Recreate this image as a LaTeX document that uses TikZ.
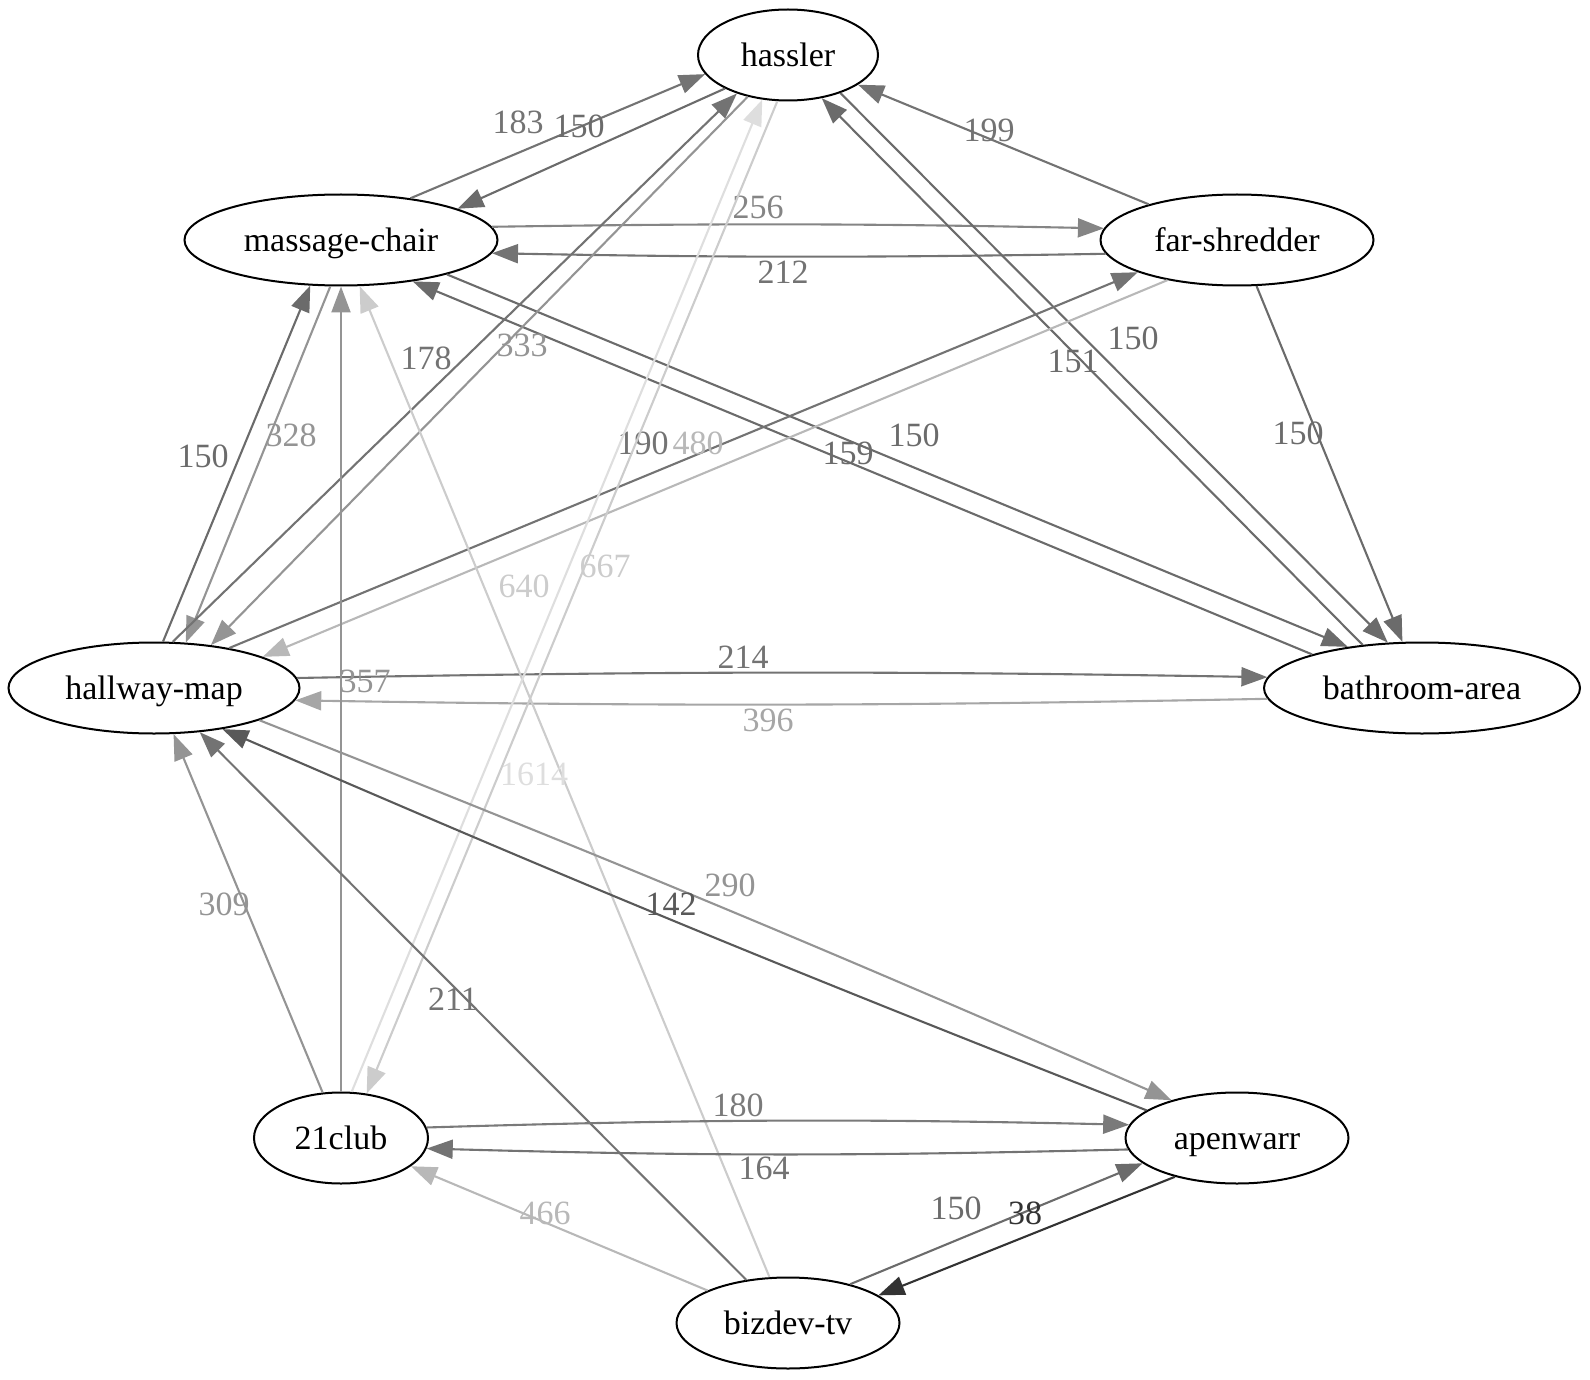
\documentclass[tikz,border=0pt]{standalone}
\usepackage{fontspec}
\setmainfont{Liberation Serif}
\usetikzlibrary{arrows.meta,shapes.geometric}

\begin{document}
\begin{tikzpicture}[x=1pt, y=-1pt]
        \def\tall{91pt}
        \tikzstyle{site}=[ellipse, draw=black, line width=2pt, minimum height=\tall, inner sep=0pt, text height=23pt, text depth=0pt, font=\fontsize{34}{40}\selectfont]
        \tikzstyle{link}=[-{Triangle[length=26pt, width=19pt]}, line width=2.1pt]
        \tikzstyle{hops}=[inner sep=0pt, font=\fontsize{34}{40}\selectfont]

        \useasboundingbox (0,0) rectangle (1590,1380);

        % Locations
        \draw node at (788, 55) [site, minimum width=180pt] (hassler) {hassler};
        \draw node at (341, 240) [site, minimum width=313pt] (massage_chair) {massage-chair};
        \draw node at (1237, 240) [site, minimum width=273pt] (far_shredder) {far-shredder};
        \draw node at (154, 688) [site, minimum width=291pt] (hallway_map) {hallway-map};
        \draw node at (1422, 688) [site, minimum width=316pt] (bathroom_area) {bathroom-area};
        \draw node at (341, 1138) [site, minimum width=174pt] (club_21) {21club};
        \draw node at (1237, 1138) [site, minimum width=223pt] (apenwarr) {apenwarr};
        \draw node at (788, 1323) [site, minimum width=223pt] (bizdev_tv) {bizdev-tv};

        % massage-chair <-> hassler
        \draw[link, black!55] (massage_chair.31) -- (hassler.193) node[hops] at (518,122) {183};
        \draw[link, black!58] (hassler.208) -- (massage_chair.15) node[hops] at (579,126) {150};
        % massage-chair <-> far-shredder
        \draw[link, black!48] (massage_chair.5) to[bend left=1] (far_shredder.175) node[hops] at (758,207) {256};
        \draw[link, black!55] (far_shredder.186) to[bend left=1] (massage_chair.-5) node[hops] at (783,272) {212};
        % far-shredder -> hassler
        \draw[link, black!55] (far_shredder.158) -- (hassler.-23) node[hops] at (989,130) {199};
        % bathroom-area <-> hassler
        \draw[link, black!58] (bathroom_area.144) -- (hassler.-52) node[hops] at (1073,361) {151};
        \draw[link, black!58] (hassler.-36) -- (bathroom_area.127) node[hops] at (1133,338) {150};
        % far-shredder -> bathroom-area
        \draw[link, black!58] (far_shredder.-67) -- (bathroom_area.113) node[hops] at (1298,433) {150};
        % massage-chair <-> bathroom-area
        \draw[link, black!58] (massage_chair.-18) -- (bathroom_area.151) node[hops] at (914,435) {150};
        \draw[link, black!58] (bathroom_area.163) -- (massage_chair.-30) node[hops] at (848,453) {159};
        % hallway-map <-> massage-chair
        \draw[link, black!58] (hallway_map.79) -- (massage_chair.236) node[hops] at (203,456) {150};
        \draw[link, black!42] (massage_chair.257) -- (hallway_map.55) node[hops] at (291,435) {328};
        % hallway-map <-> hassler
        \draw[link, black!55] (hallway_map.68) -- (hassler.217) node[hops] at (426,358) {178};
        \draw[link, black!42] (hassler.226) -- (hallway_map.37) node[hops] at (522,345) {333};
        % hallway-map <-> far-shredder
        \draw[link, black!55] (hallway_map.28) -- (far_shredder.198) node[hops] at (643,443) {190};
        \draw[link, black!28] (far_shredder.210) -- (hallway_map.16) node[hops] at (698,443) {480};
        % hallway-map <-> bathroom-area
        \draw[link, black!55] (hallway_map.4) to[bend left=1] (bathroom_area.176) node[hops] at (743,657) {214};
        \draw[link, black!35] (bathroom_area.184) to[bend left=1] (hallway_map.-5) node[hops] at (768,720) {396};
        % up into massage-chair
        \draw[link, black!42] (club_21.90) -- (massage_chair.270) node[hops] at (365,681) {357};
        \draw[link, black!20] (bizdev_tv.112) -- (massage_chair.-68) node[hops] at (524,586) {640};
        % 21club <-> hassler
        \draw[link, black!13] (club_21.77) -- (hassler.240) node[hops] at (534,774) {1614};
        \draw[link, black!20] (hassler.257) -- (club_21.60) node[hops] at (605,566) {667};
        % hallway-map <-> apenwarr
        \draw[link, black!42] (hallway_map.-17) to[bend left=1] (apenwarr.150) node[hops] at (730,885) {290};
        \draw[link, black!65] (apenwarr.163) to[bend left=1] (hallway_map.-31) node[hops] at (671,904) {142};
        % up into hallway-map
        \draw[link, black!42] (club_21.112) -- (hallway_map.-67) node[hops] at (224,904) {309};
        \draw[link, black!55] (bizdev_tv.134) -- (hallway_map.-44) node[hops] at (453,999) {211};
        % 21club <-> apenwarr
        \draw[link, black!52] (club_21.7) to[bend left=1.5] (apenwarr.173) node[hops] at (738,1105) {180};
        \draw[link, black!55] (apenwarr.186) to[bend left=1.5] (club_21.-7) node[hops] at (764,1168) {164};
        % bizdev-tv
        \draw[link, black!28] (bizdev_tv.158) -- (club_21.-22) node[hops] at (545,1213) {466};
        \draw[link, black!58] (bizdev_tv.32) -- (apenwarr.195) node[hops] at (956,1208) {150};
        \draw[link, black!80] (apenwarr.212) -- (bizdev_tv.17) node[hops] at (1025,1213) {38};

    \end{tikzpicture}
\end{document}
